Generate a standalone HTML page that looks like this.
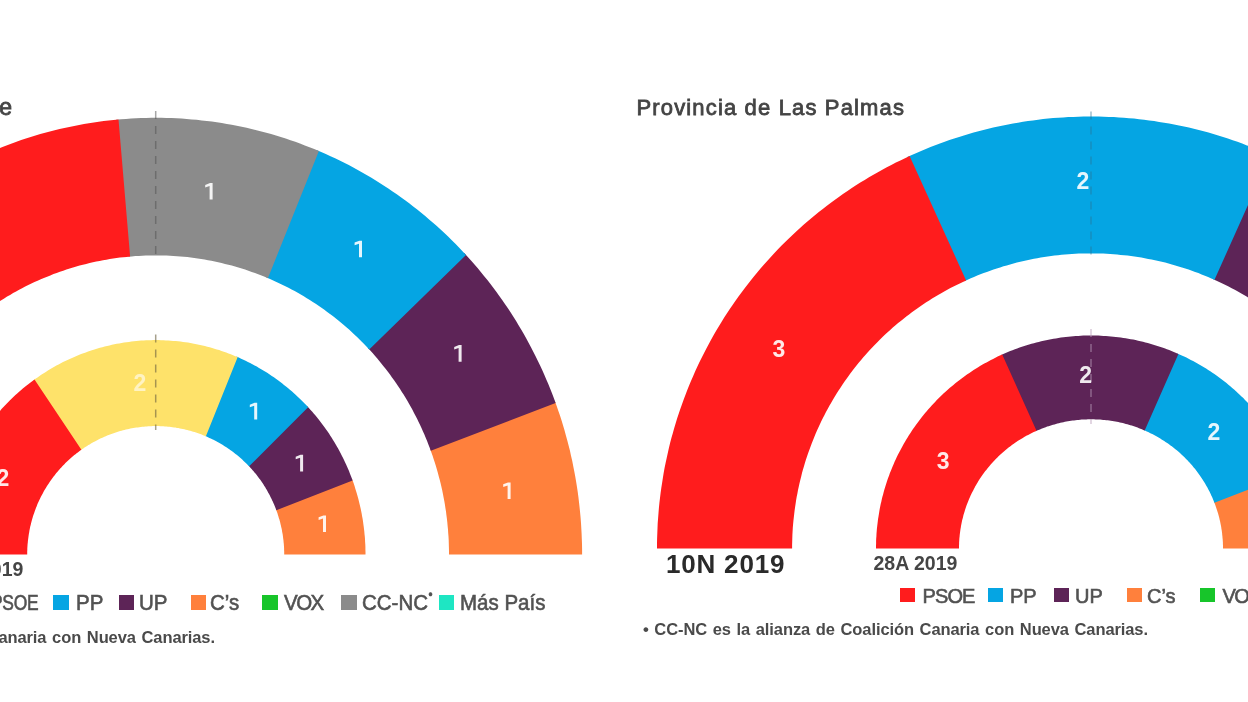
<!DOCTYPE html>
<html><head><meta charset="utf-8"><style>
html,body{margin:0;padding:0;background:#fff;}
body{width:1248px;height:702px;overflow:hidden;position:relative;font-family:"Liberation Sans",sans-serif;}
svg{position:absolute;left:0;top:0;}
#wrap{position:absolute;left:0;top:0;width:1248px;height:702px;overflow:hidden;filter:blur(0.6px);}
.n{font-family:"Liberation Sans",sans-serif;font-weight:bold;font-size:23px;fill:#fff;fill-opacity:0.9;text-anchor:middle;}
.t{position:absolute;white-space:nowrap;line-height:1;}
.title{font-size:22px;color:#444;-webkit-text-stroke:0.8px #444;letter-spacing:1.15px;}
.yr{font-weight:bold;color:#2a2a2a;}
.lg{font-size:20px;color:#525252;-webkit-text-stroke:0.6px #525252;}
.sq{position:absolute;width:15px;height:15px;}
.fn{font-size:16.5px;font-weight:bold;color:#4a4a4a;letter-spacing:-0.1px;word-spacing:1.2px;}
</style></head><body>
<div id="wrap">
<svg width="1248" height="702" viewBox="0 0 1248 702">
<path d="M582.1,554.5 L582.1,549.3 L582.0,544.0 L581.8,538.8 L581.6,533.5 L581.3,528.3 L581.0,523.0 L580.6,517.8 L580.1,512.6 L579.6,507.4 L579.0,502.2 L578.4,497.0 L577.7,491.8 L576.9,486.6 L576.1,481.4 L575.2,476.2 L574.2,471.1 L573.2,465.9 L572.2,460.8 L571.0,455.7 L569.9,450.6 L568.6,445.5 L567.3,440.4 L565.9,435.4 L564.5,430.3 L563.0,425.3 L561.5,420.3 L559.9,415.3 L558.2,410.4 L556.5,405.4 L554.7,400.5 L430.2,449.0 L431.4,452.4 L432.6,455.8 L433.7,459.2 L434.8,462.6 L435.9,466.0 L436.9,469.5 L437.9,472.9 L438.8,476.4 L439.7,479.8 L440.6,483.3 L441.4,486.8 L442.2,490.3 L442.9,493.8 L443.6,497.4 L444.3,500.9 L444.9,504.4 L445.4,508.0 L446.0,511.5 L446.4,515.1 L446.9,518.7 L447.3,522.2 L447.6,525.8 L448.0,529.4 L448.2,533.0 L448.5,536.5 L448.7,540.1 L448.8,543.7 L448.9,547.3 L449.0,550.9 L449.0,554.5Z" fill="#ff803c"/>
<path d="M555.6,403.0 L553.9,398.2 L552.1,393.5 L550.2,388.8 L548.3,384.1 L546.3,379.4 L544.3,374.8 L542.2,370.1 L540.1,365.6 L537.9,361.0 L535.7,356.4 L533.4,351.9 L531.1,347.4 L528.7,343.0 L526.3,338.5 L523.8,334.1 L521.3,329.8 L518.7,325.4 L516.1,321.1 L513.4,316.8 L510.7,312.6 L507.9,308.3 L505.1,304.2 L502.2,300.0 L499.3,295.9 L496.3,291.8 L493.3,287.8 L490.3,283.8 L487.2,279.8 L484.0,275.9 L480.8,272.0 L477.6,268.1 L474.3,264.3 L471.0,260.5 L467.6,256.8 L464.2,253.1 L367.9,348.0 L370.3,350.6 L372.6,353.1 L374.9,355.7 L377.1,358.3 L379.3,361.0 L381.5,363.7 L383.7,366.4 L385.8,369.1 L387.9,371.8 L390.0,374.6 L392.0,377.4 L394.1,380.2 L396.0,383.0 L398.0,385.9 L399.9,388.8 L401.7,391.7 L403.6,394.6 L405.4,397.6 L407.2,400.6 L408.9,403.6 L410.6,406.6 L412.3,409.6 L413.9,412.7 L415.5,415.7 L417.1,418.8 L418.6,422.0 L420.1,425.1 L421.6,428.2 L423.0,431.4 L424.4,434.6 L425.7,437.8 L427.1,441.0 L428.3,444.2 L429.6,447.5 L430.8,450.7Z" fill="#5d2457"/>
<path d="M466.0,255.0 L462.5,251.2 L459.0,247.5 L455.4,243.8 L451.8,240.2 L448.1,236.6 L444.4,233.1 L440.6,229.6 L436.8,226.1 L433.0,222.7 L429.1,219.4 L425.2,216.1 L421.2,212.8 L417.2,209.6 L413.2,206.4 L409.2,203.3 L405.1,200.3 L400.9,197.2 L396.8,194.3 L392.6,191.4 L388.3,188.5 L384.0,185.7 L379.7,182.9 L375.4,180.2 L371.0,177.6 L366.6,175.0 L362.2,172.4 L357.8,170.0 L353.3,167.5 L348.8,165.1 L344.2,162.8 L339.7,160.5 L335.1,158.3 L330.5,156.2 L325.8,154.1 L321.2,152.0 L316.5,150.0 L266.3,277.5 L269.5,278.8 L272.7,280.2 L275.9,281.7 L279.1,283.2 L282.2,284.7 L285.4,286.2 L288.5,287.8 L291.6,289.4 L294.7,291.1 L297.8,292.8 L300.8,294.6 L303.8,296.3 L306.8,298.2 L309.8,300.0 L312.8,301.9 L315.7,303.8 L318.6,305.8 L321.5,307.8 L324.4,309.8 L327.2,311.9 L330.0,314.0 L332.8,316.1 L335.6,318.3 L338.4,320.5 L341.1,322.7 L343.8,325.0 L346.4,327.3 L349.1,329.6 L351.7,332.0 L354.3,334.4 L356.8,336.8 L359.3,339.2 L361.8,341.7 L364.3,344.2 L366.7,346.8 L369.2,349.4Z" fill="#05a5e3"/>
<path d="M318.9,151.0 L314.2,149.1 L309.5,147.2 L304.8,145.4 L300.0,143.6 L295.3,141.8 L290.5,140.2 L285.7,138.6 L280.8,137.0 L276.0,135.5 L271.1,134.1 L266.3,132.7 L261.4,131.4 L256.5,130.2 L251.5,129.0 L246.6,127.8 L241.7,126.8 L236.7,125.8 L231.7,124.8 L226.8,123.9 L221.8,123.1 L216.8,122.3 L211.8,121.6 L206.8,120.9 L201.7,120.4 L196.7,119.8 L191.7,119.4 L186.6,119.0 L181.6,118.6 L176.5,118.3 L171.5,118.1 L166.4,117.9 L161.4,117.8 L156.3,117.8 L151.3,117.8 L146.2,117.9 L141.2,118.1 L136.1,118.3 L131.1,118.5 L126.0,118.9 L121.0,119.3 L115.9,119.7 L128.4,256.7 L131.8,256.4 L135.3,256.1 L138.8,255.9 L142.2,255.7 L145.7,255.6 L149.2,255.5 L152.7,255.4 L156.1,255.4 L159.6,255.4 L163.1,255.5 L166.6,255.6 L170.0,255.8 L173.5,256.0 L177.0,256.2 L180.4,256.5 L183.9,256.8 L187.4,257.1 L190.8,257.6 L194.3,258.0 L197.7,258.5 L201.2,259.0 L204.6,259.6 L208.0,260.2 L211.4,260.8 L214.8,261.5 L218.2,262.3 L221.6,263.1 L225.0,263.9 L228.4,264.7 L231.8,265.6 L235.1,266.6 L238.4,267.5 L241.8,268.6 L245.1,269.6 L248.4,270.7 L251.7,271.9 L255.0,273.1 L258.2,274.3 L261.5,275.5 L264.7,276.8 L267.9,278.2Z" fill="#8b8b8b"/>
<path d="M118.5,119.5 L113.6,119.9 L108.6,120.5 L103.7,121.1 L98.7,121.7 L93.8,122.4 L88.9,123.2 L84.0,124.0 L79.1,124.9 L74.2,125.9 L69.3,126.9 L64.4,127.9 L59.6,129.0 L54.7,130.2 L49.9,131.5 L45.1,132.8 L40.3,134.1 L35.5,135.5 L30.7,137.0 L25.9,138.5 L21.2,140.1 L16.5,141.7 L11.8,143.4 L7.1,145.2 L2.5,147.0 L-2.2,148.8 L-6.8,150.8 L-11.4,152.7 L-16.0,154.8 L-20.5,156.8 L-25.0,159.0 L-29.5,161.2 L-34.0,163.4 L-38.5,165.7 L-42.9,168.0 L-47.3,170.4 L-51.6,172.9 L-56.0,175.4 L-60.3,178.0 L-64.6,180.6 L-68.8,183.2 L-73.0,185.9 L-77.2,188.7 L-81.4,191.5 L-85.5,194.4 L-89.6,197.3 L-93.6,200.3 L-97.7,203.3 L-101.7,206.3 L-105.6,209.4 L-109.5,212.6 L-113.4,215.8 L-117.3,219.0 L-121.1,222.3 L-124.8,225.6 L-128.6,229.0 L-132.3,232.4 L-135.9,235.9 L-139.5,239.4 L-143.1,243.0 L-146.6,246.6 L-150.1,250.2 L-153.6,253.9 L-157.0,257.6 L-160.4,261.4 L-163.7,265.2 L-167.0,269.0 L-170.2,272.9 L-173.4,276.8 L-176.5,280.7 L-179.6,284.7 L-182.7,288.8 L-185.7,292.8 L-188.6,296.9 L-191.6,301.1 L-194.4,305.2 L-197.2,309.5 L-200.0,313.7 L-202.7,318.0 L-205.4,322.3 L-208.0,326.6 L-210.6,331.0 L-213.1,335.4 L-215.6,339.8 L-218.0,344.3 L-220.4,348.7 L-222.7,353.3 L-225.0,357.8 L-227.2,362.4 L-229.4,367.0 L-231.5,371.6 L-233.5,376.2 L-235.6,380.9 L-237.5,385.6 L-239.4,390.3 L-241.3,395.0 L-243.0,399.8 L-244.8,404.6 L-246.5,409.4 L-248.1,414.2 L-249.7,419.0 L-251.2,423.9 L-252.6,428.8 L-254.1,433.7 L-255.4,438.6 L-256.7,443.5 L-257.9,448.4 L-259.1,453.4 L-260.2,458.4 L-261.3,463.4 L-262.3,468.3 L-263.3,473.4 L-264.2,478.4 L-265.0,483.4 L-265.8,488.4 L-266.5,493.5 L-267.2,498.5 L-267.8,503.6 L-268.3,508.7 L-268.8,513.7 L-269.3,518.8 L-269.7,523.9 L-270.0,529.0 L-270.2,534.1 L-270.4,539.2 L-270.6,544.3 L-270.7,549.4 L-270.7,554.5 L-137.6,554.5 L-137.6,551.0 L-137.5,547.5 L-137.4,544.0 L-137.3,540.5 L-137.1,537.0 L-136.9,533.6 L-136.6,530.1 L-136.3,526.6 L-136.0,523.1 L-135.6,519.6 L-135.2,516.2 L-134.7,512.7 L-134.2,509.3 L-133.7,505.8 L-133.1,502.4 L-132.5,498.9 L-131.8,495.5 L-131.1,492.1 L-130.4,488.7 L-129.6,485.3 L-128.8,481.9 L-128.0,478.5 L-127.1,475.1 L-126.1,471.7 L-125.2,468.4 L-124.2,465.0 L-123.1,461.7 L-122.1,458.4 L-120.9,455.1 L-119.8,451.8 L-118.6,448.5 L-117.3,445.3 L-116.1,442.0 L-114.8,438.8 L-113.4,435.6 L-112.0,432.4 L-110.6,429.2 L-109.2,426.0 L-107.7,422.9 L-106.2,419.8 L-104.6,416.7 L-103.0,413.6 L-101.4,410.5 L-99.7,407.4 L-98.0,404.4 L-96.3,401.4 L-94.5,398.4 L-92.7,395.4 L-90.9,392.5 L-89.0,389.6 L-87.1,386.7 L-85.1,383.8 L-83.2,380.9 L-81.2,378.1 L-79.1,375.3 L-77.1,372.5 L-75.0,369.7 L-72.8,367.0 L-70.7,364.3 L-68.5,361.6 L-66.2,359.0 L-64.0,356.3 L-61.7,353.7 L-59.4,351.1 L-57.0,348.6 L-54.7,346.1 L-52.3,343.6 L-49.8,341.1 L-47.4,338.7 L-44.9,336.3 L-42.4,333.9 L-39.8,331.6 L-37.3,329.3 L-34.7,327.0 L-32.1,324.7 L-29.4,322.5 L-26.7,320.3 L-24.0,318.1 L-21.3,316.0 L-18.6,313.9 L-15.8,311.9 L-13.0,309.8 L-10.2,307.9 L-7.4,305.9 L-4.5,304.0 L-1.6,302.1 L1.3,300.2 L4.2,298.4 L7.1,296.6 L10.1,294.9 L13.1,293.1 L16.1,291.5 L19.1,289.8 L22.1,288.2 L25.2,286.6 L28.3,285.1 L31.4,283.6 L34.5,282.1 L37.6,280.7 L40.8,279.3 L43.9,278.0 L47.1,276.7 L50.3,275.4 L53.5,274.1 L56.7,272.9 L59.9,271.8 L63.2,270.7 L66.4,269.6 L69.7,268.5 L73.0,267.5 L76.3,266.6 L79.6,265.6 L82.9,264.8 L86.2,263.9 L89.6,263.1 L92.9,262.3 L96.3,261.6 L99.6,260.9 L103.0,260.3 L106.4,259.7 L109.7,259.1 L113.1,258.6 L116.5,258.1 L119.9,257.6 L123.3,257.2 L126.7,256.9 L130.1,256.5Z" fill="#ff1c1d"/>
<path d="M365.5,554.5 L365.5,551.9 L365.4,549.4 L365.4,546.8 L365.3,544.3 L365.1,541.7 L365.0,539.1 L364.8,536.6 L364.5,534.0 L364.3,531.5 L364.0,528.9 L363.7,526.4 L363.3,523.8 L363.0,521.3 L362.6,518.8 L362.1,516.3 L361.7,513.7 L361.2,511.2 L360.7,508.7 L360.1,506.2 L359.5,503.7 L358.9,501.2 L358.3,498.8 L357.6,496.3 L356.9,493.8 L356.2,491.4 L355.4,488.9 L354.7,486.5 L353.9,484.1 L353.0,481.6 L352.1,479.2 L276.0,509.4 L276.6,510.9 L277.1,512.3 L277.6,513.8 L278.0,515.2 L278.5,516.7 L278.9,518.2 L279.4,519.6 L279.8,521.1 L280.2,522.6 L280.5,524.1 L280.9,525.6 L281.2,527.1 L281.6,528.6 L281.9,530.1 L282.1,531.6 L282.4,533.1 L282.7,534.6 L282.9,536.1 L283.1,537.7 L283.3,539.2 L283.5,540.7 L283.6,542.2 L283.8,543.8 L283.9,545.3 L284.0,546.8 L284.1,548.4 L284.1,549.9 L284.2,551.4 L284.2,553.0 L284.2,554.5Z" fill="#ff803c"/>
<path d="M352.6,480.5 L351.7,478.1 L350.8,475.8 L349.9,473.4 L349.0,471.1 L348.0,468.8 L347.0,466.5 L346.0,464.2 L344.9,461.9 L343.9,459.7 L342.8,457.4 L341.6,455.2 L340.5,452.9 L339.3,450.7 L338.1,448.5 L336.9,446.4 L335.6,444.2 L334.3,442.0 L333.0,439.9 L331.7,437.8 L330.3,435.7 L329.0,433.6 L327.6,431.5 L326.1,429.5 L324.7,427.4 L323.2,425.4 L321.7,423.4 L320.2,421.4 L318.7,419.5 L317.1,417.5 L315.5,415.6 L313.9,413.7 L312.3,411.8 L310.6,409.9 L308.9,408.1 L307.3,406.2 L248.5,465.7 L249.6,466.8 L250.6,467.9 L251.6,469.0 L252.6,470.2 L253.6,471.3 L254.5,472.5 L255.5,473.6 L256.5,474.8 L257.4,476.0 L258.3,477.2 L259.2,478.4 L260.1,479.6 L261.0,480.8 L261.8,482.1 L262.7,483.3 L263.5,484.6 L264.3,485.9 L265.1,487.1 L265.9,488.4 L266.7,489.7 L267.4,491.0 L268.1,492.4 L268.9,493.7 L269.6,495.0 L270.3,496.4 L270.9,497.7 L271.6,499.1 L272.2,500.4 L272.9,501.8 L273.5,503.2 L274.1,504.6 L274.7,505.9 L275.2,507.3 L275.8,508.8 L276.3,510.2Z" fill="#5d2457"/>
<path d="M308.1,407.2 L306.4,405.3 L304.6,403.5 L302.9,401.7 L301.1,399.9 L299.3,398.2 L297.4,396.4 L295.6,394.7 L293.7,393.0 L291.8,391.3 L289.9,389.7 L287.9,388.1 L286.0,386.4 L284.0,384.9 L282.0,383.3 L280.0,381.8 L278.0,380.3 L275.9,378.8 L273.9,377.3 L271.8,375.9 L269.7,374.5 L267.6,373.1 L265.5,371.8 L263.3,370.5 L261.2,369.2 L259.0,367.9 L256.8,366.6 L254.6,365.4 L252.4,364.2 L250.1,363.1 L247.9,361.9 L245.6,360.8 L243.4,359.7 L241.1,358.7 L238.8,357.6 L236.5,356.6 L205.2,436.0 L206.6,436.6 L208.0,437.2 L209.4,437.9 L210.8,438.5 L212.2,439.2 L213.5,439.8 L214.9,440.5 L216.3,441.3 L217.6,442.0 L219.0,442.7 L220.3,443.5 L221.6,444.3 L222.9,445.1 L224.2,445.9 L225.5,446.7 L226.8,447.6 L228.1,448.4 L229.3,449.3 L230.6,450.2 L231.8,451.1 L233.1,452.0 L234.3,452.9 L235.5,453.9 L236.7,454.8 L237.9,455.8 L239.1,456.8 L240.2,457.8 L241.4,458.8 L242.5,459.8 L243.6,460.9 L244.7,461.9 L245.8,463.0 L246.9,464.1 L248.0,465.2 L249.1,466.3Z" fill="#05a5e3"/>
<path d="M237.7,357.1 L235.4,356.2 L233.1,355.2 L230.8,354.3 L228.5,353.4 L226.2,352.6 L223.8,351.7 L221.5,350.9 L219.2,350.1 L216.8,349.4 L214.4,348.7 L212.1,348.0 L209.7,347.3 L207.3,346.7 L204.9,346.1 L202.5,345.5 L200.1,345.0 L197.7,344.4 L195.2,343.9 L192.8,343.5 L190.4,343.1 L188.0,342.6 L185.5,342.3 L183.1,341.9 L180.6,341.6 L178.2,341.3 L175.7,341.1 L173.2,340.9 L170.8,340.7 L168.3,340.5 L165.9,340.4 L163.4,340.2 L160.9,340.2 L158.5,340.1 L156.0,340.1 L153.5,340.1 L151.1,340.2 L148.6,340.2 L146.1,340.3 L143.7,340.5 L141.2,340.6 L138.7,340.8 L136.3,341.0 L133.8,341.3 L131.4,341.5 L128.9,341.9 L126.5,342.2 L124.0,342.6 L121.6,343.0 L119.2,343.4 L116.7,343.8 L114.3,344.3 L111.9,344.8 L109.5,345.4 L107.1,345.9 L104.7,346.5 L102.3,347.2 L99.9,347.8 L97.5,348.5 L95.2,349.2 L92.8,350.0 L90.4,350.7 L88.1,351.5 L85.8,352.4 L83.4,353.2 L81.1,354.1 L78.8,355.0 L76.5,355.9 L74.3,356.9 L72.0,357.9 L69.7,358.9 L67.5,360.0 L65.3,361.0 L63.0,362.1 L60.8,363.3 L58.6,364.4 L56.4,365.6 L54.3,366.8 L52.1,368.0 L50.0,369.3 L47.9,370.6 L45.8,371.9 L43.7,373.2 L41.6,374.6 L39.5,376.0 L37.5,377.4 L35.4,378.8 L33.4,380.3 L80.8,450.2 L82.0,449.3 L83.3,448.4 L84.5,447.6 L85.8,446.8 L87.1,445.9 L88.4,445.1 L89.7,444.4 L91.0,443.6 L92.3,442.8 L93.6,442.1 L94.9,441.4 L96.2,440.7 L97.6,440.0 L98.9,439.3 L100.3,438.6 L101.7,438.0 L103.0,437.4 L104.4,436.8 L105.8,436.2 L107.2,435.6 L108.6,435.0 L110.0,434.5 L111.4,434.0 L112.9,433.4 L114.3,432.9 L115.7,432.5 L117.2,432.0 L118.6,431.6 L120.1,431.1 L121.5,430.7 L123.0,430.3 L124.4,430.0 L125.9,429.6 L127.4,429.3 L128.9,428.9 L130.3,428.6 L131.8,428.3 L133.3,428.1 L134.8,427.8 L136.3,427.6 L137.8,427.4 L139.3,427.2 L140.8,427.0 L142.3,426.8 L143.8,426.7 L145.3,426.5 L146.8,426.4 L148.3,426.3 L149.8,426.2 L151.3,426.2 L152.9,426.1 L154.4,426.1 L155.9,426.1 L157.4,426.1 L158.9,426.1 L160.4,426.2 L161.9,426.3 L163.4,426.3 L164.9,426.4 L166.4,426.5 L168.0,426.7 L169.5,426.8 L171.0,427.0 L172.5,427.2 L174.0,427.4 L175.5,427.6 L176.9,427.9 L178.4,428.1 L179.9,428.4 L181.4,428.7 L182.9,429.0 L184.4,429.3 L185.8,429.7 L187.3,430.0 L188.8,430.4 L190.2,430.8 L191.7,431.2 L193.1,431.7 L194.6,432.1 L196.0,432.6 L197.4,433.1 L198.9,433.6 L200.3,434.1 L201.7,434.6 L203.1,435.2 L204.5,435.7 L205.9,436.3Z" fill="#fee26a"/>
<path d="M34.5,379.5 L32.5,381.0 L30.5,382.5 L28.6,384.0 L26.6,385.5 L24.7,387.0 L22.8,388.6 L20.9,390.2 L19.1,391.8 L17.2,393.4 L15.4,395.1 L13.6,396.8 L11.8,398.5 L10.0,400.2 L8.3,401.9 L6.6,403.7 L4.9,405.5 L3.2,407.3 L1.5,409.1 L-0.1,411.0 L-1.8,412.8 L-3.4,414.7 L-5.0,416.6 L-6.5,418.5 L-8.1,420.5 L-9.6,422.4 L-11.1,424.4 L-12.5,426.4 L-14.0,428.4 L-15.4,430.4 L-16.8,432.5 L-18.2,434.5 L-19.5,436.6 L-20.9,438.7 L-22.2,440.8 L-23.5,442.9 L-24.7,445.1 L-26.0,447.2 L-27.2,449.4 L-28.4,451.6 L-29.5,453.8 L-30.6,456.0 L-31.8,458.2 L-32.8,460.5 L-33.9,462.7 L-34.9,465.0 L-35.9,467.2 L-36.9,469.5 L-37.9,471.8 L-38.8,474.1 L-39.7,476.5 L-40.6,478.8 L-41.4,481.1 L-42.3,483.5 L-43.1,485.8 L-43.8,488.2 L-44.6,490.6 L-45.3,493.0 L-46.0,495.4 L-46.6,497.8 L-47.3,500.2 L-47.9,502.6 L-48.4,505.0 L-49.0,507.5 L-49.5,509.9 L-50.0,512.3 L-50.5,514.8 L-50.9,517.2 L-51.3,519.7 L-51.7,522.2 L-52.1,524.6 L-52.4,527.1 L-52.7,529.6 L-52.9,532.1 L-53.2,534.6 L-53.4,537.0 L-53.6,539.5 L-53.7,542.0 L-53.9,544.5 L-54.0,547.0 L-54.0,549.5 L-54.1,552.0 L-54.1,554.5 L27.2,554.5 L27.2,553.0 L27.2,551.5 L27.3,550.0 L27.3,548.5 L27.4,547.0 L27.5,545.5 L27.6,544.0 L27.8,542.6 L27.9,541.1 L28.1,539.6 L28.3,538.1 L28.5,536.6 L28.7,535.1 L28.9,533.7 L29.2,532.2 L29.4,530.7 L29.7,529.3 L30.0,527.8 L30.3,526.3 L30.7,524.9 L31.0,523.4 L31.4,522.0 L31.8,520.5 L32.2,519.1 L32.6,517.7 L33.0,516.2 L33.5,514.8 L34.0,513.4 L34.5,512.0 L35.0,510.6 L35.5,509.2 L36.0,507.8 L36.6,506.4 L37.1,505.0 L37.7,503.6 L38.3,502.2 L38.9,500.9 L39.6,499.5 L40.2,498.2 L40.9,496.8 L41.6,495.5 L42.3,494.2 L43.0,492.9 L43.7,491.6 L44.4,490.3 L45.2,489.0 L46.0,487.7 L46.7,486.4 L47.5,485.2 L48.4,483.9 L49.2,482.7 L50.0,481.4 L50.9,480.2 L51.8,479.0 L52.7,477.8 L53.6,476.6 L54.5,475.4 L55.4,474.2 L56.3,473.1 L57.3,471.9 L58.3,470.8 L59.2,469.7 L60.2,468.5 L61.3,467.4 L62.3,466.3 L63.3,465.3 L64.4,464.2 L65.4,463.1 L66.5,462.1 L67.6,461.1 L68.7,460.0 L69.8,459.0 L70.9,458.0 L72.0,457.1 L73.2,456.1 L74.3,455.1 L75.5,454.2 L76.6,453.3 L77.8,452.4 L79.0,451.5 L80.2,450.6 L81.4,449.7Z" fill="#ff1c1d"/>
<path d="M1525.0,548.6 L1525.0,543.5 L1524.9,538.5 L1524.7,533.4 L1524.5,528.3 L1524.3,523.2 L1523.9,518.2 L1523.5,513.1 L1523.1,508.1 L1522.6,503.0 L1522.0,498.0 L1521.4,492.9 L1520.7,487.9 L1520.0,482.9 L1519.1,477.9 L1518.3,472.9 L1517.4,467.9 L1516.4,462.9 L1515.3,457.9 L1514.2,453.0 L1513.1,448.0 L1511.9,443.1 L1510.6,438.2 L1509.3,433.3 L1507.9,428.4 L1506.4,423.5 L1504.9,418.7 L1503.4,413.9 L1501.7,409.0 L1500.1,404.2 L1498.3,399.5 L1496.5,394.7 L1494.7,390.0 L1492.8,385.3 L1490.9,380.6 L1488.8,375.9 L1486.8,371.3 L1484.7,366.7 L1482.5,362.1 L1480.3,357.5 L1478.0,353.0 L1475.6,348.5 L1473.3,344.0 L1470.8,339.5 L1468.3,335.1 L1465.8,330.7 L1463.2,326.3 L1460.5,322.0 L1457.8,317.7 L1455.1,313.4 L1452.3,309.2 L1449.4,305.0 L1446.5,300.8 L1443.6,296.7 L1440.6,292.5 L1437.5,288.5 L1434.5,284.4 L1431.3,280.4 L1428.1,276.5 L1424.9,272.6 L1421.6,268.7 L1418.3,264.8 L1414.9,261.0 L1411.5,257.3 L1408.0,253.5 L1404.5,249.8 L1401.0,246.2 L1397.4,242.6 L1393.8,239.0 L1390.1,235.5 L1386.4,232.0 L1382.6,228.6 L1378.8,225.2 L1375.0,221.9 L1371.1,218.6 L1367.2,215.3 L1363.3,212.1 L1359.3,208.9 L1355.3,205.8 L1351.2,202.8 L1347.1,199.7 L1343.0,196.8 L1338.8,193.9 L1334.6,191.0 L1330.4,188.2 L1326.1,185.4 L1321.8,182.7 L1317.5,180.0 L1313.1,177.4 L1308.7,174.8 L1304.3,172.3 L1299.8,169.8 L1295.3,167.4 L1290.8,165.0 L1286.3,162.7 L1281.7,160.5 L1277.1,158.3 L1272.5,156.1 L1267.9,154.0 L1212.8,279.0 L1216.0,280.5 L1219.2,281.9 L1222.4,283.4 L1225.5,285.0 L1228.6,286.6 L1231.7,288.2 L1234.8,289.8 L1237.9,291.5 L1240.9,293.2 L1244.0,295.0 L1247.0,296.8 L1249.9,298.6 L1252.9,300.5 L1255.8,302.4 L1258.8,304.3 L1261.7,306.2 L1264.5,308.2 L1267.4,310.3 L1270.2,312.3 L1273.0,314.4 L1275.8,316.6 L1278.5,318.7 L1281.2,320.9 L1283.9,323.1 L1286.6,325.4 L1289.2,327.7 L1291.9,330.0 L1294.4,332.3 L1297.0,334.7 L1299.5,337.1 L1302.0,339.5 L1304.5,342.0 L1306.9,344.5 L1309.4,347.0 L1311.7,349.6 L1314.1,352.1 L1316.4,354.7 L1318.7,357.4 L1321.0,360.0 L1323.2,362.7 L1325.4,365.4 L1327.5,368.1 L1329.7,370.9 L1331.8,373.7 L1333.8,376.5 L1335.9,379.3 L1337.9,382.2 L1339.8,385.0 L1341.7,387.9 L1343.6,390.9 L1345.5,393.8 L1347.3,396.8 L1349.1,399.7 L1350.9,402.7 L1352.6,405.8 L1354.3,408.8 L1355.9,411.9 L1357.5,415.0 L1359.1,418.1 L1360.6,421.2 L1362.1,424.3 L1363.6,427.5 L1365.0,430.6 L1366.4,433.8 L1367.7,437.0 L1369.0,440.2 L1370.3,443.5 L1371.5,446.7 L1372.7,450.0 L1373.9,453.3 L1375.0,456.5 L1376.1,459.8 L1377.1,463.2 L1378.1,466.5 L1379.1,469.8 L1380.0,473.2 L1380.9,476.5 L1381.7,479.9 L1382.5,483.3 L1383.2,486.7 L1384.0,490.0 L1384.6,493.5 L1385.3,496.9 L1385.9,500.3 L1386.4,503.7 L1386.9,507.1 L1387.4,510.6 L1387.8,514.0 L1388.2,517.5 L1388.6,520.9 L1388.9,524.4 L1389.2,527.8 L1389.4,531.3 L1389.6,534.7 L1389.7,538.2 L1389.8,541.7 L1389.9,545.1 L1389.9,548.6Z" fill="#5d2457"/>
<path d="M1270.3,155.1 L1265.7,153.0 L1261.0,151.0 L1256.4,149.1 L1251.7,147.2 L1246.9,145.4 L1242.2,143.6 L1237.5,141.8 L1232.7,140.2 L1227.9,138.6 L1223.1,137.0 L1218.2,135.5 L1213.4,134.0 L1208.5,132.6 L1203.7,131.3 L1198.8,130.0 L1193.8,128.8 L1188.9,127.6 L1184.0,126.5 L1179.0,125.5 L1174.1,124.5 L1169.1,123.6 L1164.1,122.7 L1159.1,121.9 L1154.1,121.1 L1149.1,120.4 L1144.1,119.7 L1139.1,119.2 L1134.0,118.6 L1129.0,118.2 L1123.9,117.7 L1118.9,117.4 L1113.8,117.1 L1108.8,116.9 L1103.7,116.7 L1098.7,116.6 L1093.6,116.5 L1088.5,116.5 L1083.5,116.6 L1078.4,116.7 L1073.4,116.9 L1068.3,117.1 L1063.2,117.4 L1058.2,117.7 L1053.2,118.1 L1048.1,118.6 L1043.1,119.1 L1038.1,119.7 L1033.0,120.4 L1028.0,121.1 L1023.0,121.8 L1018.0,122.7 L1013.0,123.5 L1008.1,124.5 L1003.1,125.5 L998.1,126.5 L993.2,127.6 L988.3,128.8 L983.4,130.0 L978.5,131.3 L973.6,132.6 L968.7,134.0 L963.9,135.4 L959.1,137.0 L954.2,138.5 L949.4,140.1 L944.7,141.8 L939.9,143.5 L935.2,145.3 L930.5,147.1 L925.8,149.0 L921.1,151.0 L916.5,153.0 L911.8,155.0 L907.2,157.1 L964.4,281.2 L967.6,279.7 L970.8,278.3 L974.0,277.0 L977.2,275.6 L980.4,274.3 L983.7,273.1 L986.9,271.9 L990.2,270.7 L993.5,269.5 L996.8,268.4 L1000.1,267.4 L1003.5,266.3 L1006.8,265.4 L1010.1,264.4 L1013.5,263.5 L1016.9,262.6 L1020.3,261.8 L1023.7,261.0 L1027.1,260.2 L1030.5,259.5 L1033.9,258.8 L1037.3,258.2 L1040.7,257.6 L1044.2,257.0 L1047.6,256.5 L1051.1,256.0 L1054.5,255.6 L1058.0,255.2 L1061.5,254.8 L1064.9,254.5 L1068.4,254.2 L1071.9,254.0 L1075.4,253.8 L1078.8,253.6 L1082.3,253.5 L1085.8,253.4 L1089.3,253.4 L1092.8,253.4 L1096.3,253.4 L1099.8,253.5 L1103.2,253.6 L1106.7,253.8 L1110.2,254.0 L1113.7,254.3 L1117.2,254.5 L1120.6,254.9 L1124.1,255.2 L1127.6,255.6 L1131.0,256.1 L1134.5,256.5 L1137.9,257.1 L1141.4,257.6 L1144.8,258.2 L1148.2,258.9 L1151.6,259.5 L1155.0,260.3 L1158.4,261.0 L1161.8,261.8 L1165.2,262.6 L1168.6,263.5 L1171.9,264.4 L1175.3,265.4 L1178.6,266.4 L1182.0,267.4 L1185.3,268.5 L1188.6,269.6 L1191.9,270.7 L1195.1,271.9 L1198.4,273.1 L1201.6,274.4 L1204.9,275.7 L1208.1,277.0 L1211.3,278.4 L1214.5,279.8Z" fill="#05a5e3"/>
<path d="M909.6,156.0 L905.0,158.2 L900.4,160.4 L895.9,162.6 L891.3,164.9 L886.8,167.3 L882.3,169.7 L877.9,172.2 L873.4,174.7 L869.0,177.3 L864.7,179.9 L860.3,182.6 L856.0,185.3 L851.8,188.1 L847.5,190.9 L843.3,193.8 L839.2,196.7 L835.0,199.7 L830.9,202.7 L826.9,205.7 L822.8,208.9 L818.8,212.0 L814.9,215.2 L811.0,218.5 L807.1,221.8 L803.3,225.1 L799.5,228.5 L795.7,231.9 L792.0,235.4 L788.3,238.9 L784.7,242.5 L781.1,246.1 L777.5,249.8 L774.0,253.4 L770.6,257.2 L767.2,260.9 L763.8,264.7 L760.5,268.6 L757.2,272.5 L753.9,276.4 L750.7,280.4 L747.6,284.4 L744.5,288.4 L741.5,292.5 L738.5,296.6 L735.5,300.7 L732.6,304.9 L729.8,309.1 L727.0,313.3 L724.2,317.6 L721.5,321.9 L718.9,326.3 L716.3,330.6 L713.7,335.0 L711.2,339.5 L708.8,343.9 L706.4,348.4 L704.1,352.9 L701.8,357.5 L699.5,362.0 L697.4,366.6 L695.2,371.2 L693.2,375.9 L691.2,380.5 L689.2,385.2 L687.3,389.9 L685.5,394.7 L683.7,399.4 L682.0,404.2 L680.3,409.0 L678.7,413.8 L677.1,418.6 L675.6,423.5 L674.1,428.4 L672.8,433.2 L671.4,438.1 L670.1,443.1 L668.9,448.0 L667.8,452.9 L666.7,457.9 L665.6,462.9 L664.6,467.8 L663.7,472.8 L662.9,477.8 L662.1,482.9 L661.3,487.9 L660.6,492.9 L660.0,497.9 L659.4,503.0 L658.9,508.0 L658.5,513.1 L658.1,518.2 L657.7,523.2 L657.5,528.3 L657.3,533.4 L657.1,538.4 L657.0,543.5 L657.0,548.6 L792.1,548.6 L792.1,545.1 L792.2,541.7 L792.3,538.2 L792.4,534.7 L792.6,531.3 L792.8,527.8 L793.1,524.3 L793.4,520.9 L793.8,517.4 L794.2,514.0 L794.6,510.6 L795.1,507.1 L795.6,503.7 L796.1,500.3 L796.7,496.8 L797.4,493.4 L798.0,490.0 L798.8,486.6 L799.5,483.2 L800.3,479.9 L801.2,476.5 L802.0,473.1 L802.9,469.8 L803.9,466.5 L804.9,463.1 L805.9,459.8 L807.0,456.5 L808.1,453.2 L809.3,450.0 L810.5,446.7 L811.7,443.4 L813.0,440.2 L814.3,437.0 L815.6,433.8 L817.0,430.6 L818.4,427.4 L819.9,424.3 L821.4,421.1 L822.9,418.0 L824.5,414.9 L826.1,411.8 L827.8,408.8 L829.4,405.7 L831.2,402.7 L832.9,399.7 L834.7,396.7 L836.5,393.7 L838.4,390.8 L840.3,387.9 L842.2,385.0 L844.2,382.1 L846.2,379.3 L848.2,376.4 L850.3,373.6 L852.4,370.8 L854.5,368.1 L856.7,365.3 L858.9,362.6 L861.1,360.0 L863.3,357.3 L865.6,354.7 L868.0,352.1 L870.3,349.5 L872.7,347.0 L875.1,344.4 L877.6,341.9 L880.0,339.5 L882.5,337.0 L885.1,334.6 L887.6,332.3 L890.2,329.9 L892.8,327.6 L895.5,325.3 L898.1,323.1 L900.8,320.9 L903.6,318.7 L906.3,316.5 L909.1,314.4 L911.9,312.3 L914.7,310.2 L917.6,308.2 L920.4,306.2 L923.3,304.2 L926.2,302.3 L929.2,300.4 L932.1,298.5 L935.1,296.7 L938.1,294.9 L941.2,293.2 L944.2,291.4 L947.3,289.8 L950.4,288.1 L953.5,286.5 L956.6,284.9 L959.8,283.4 L962.9,281.9 L966.1,280.4Z" fill="#ff1c1d"/>
<path d="M1306.0,548.6 L1306.0,546.1 L1305.9,543.5 L1305.9,541.0 L1305.8,538.5 L1305.6,535.9 L1305.5,533.4 L1305.3,530.9 L1305.0,528.3 L1304.8,525.8 L1304.5,523.3 L1304.2,520.8 L1303.8,518.3 L1303.4,515.7 L1303.0,513.2 L1302.6,510.7 L1302.1,508.2 L1301.6,505.8 L1301.1,503.3 L1300.5,500.8 L1299.9,498.3 L1299.3,495.9 L1298.7,493.4 L1298.0,491.0 L1297.3,488.5 L1296.5,486.1 L1295.8,483.7 L1295.0,481.3 L1294.2,478.9 L1293.3,476.5 L1292.4,474.1 L1291.5,471.7 L1214.1,501.9 L1214.7,503.4 L1215.2,504.8 L1215.7,506.3 L1216.2,507.7 L1216.7,509.2 L1217.2,510.7 L1217.6,512.1 L1218.1,513.6 L1218.5,515.1 L1218.9,516.6 L1219.3,518.1 L1219.6,519.6 L1220.0,521.1 L1220.3,522.6 L1220.6,524.1 L1220.9,525.6 L1221.2,527.1 L1221.4,528.7 L1221.7,530.2 L1221.9,531.7 L1222.1,533.2 L1222.2,534.8 L1222.4,536.3 L1222.5,537.8 L1222.7,539.4 L1222.8,540.9 L1222.9,542.4 L1222.9,544.0 L1223.0,545.5 L1223.0,547.1 L1223.0,548.6Z" fill="#ff803c"/>
<path d="M1292.0,472.9 L1291.1,470.6 L1290.1,468.3 L1289.2,466.0 L1288.2,463.7 L1287.2,461.4 L1286.1,459.2 L1285.1,456.9 L1284.0,454.7 L1282.9,452.4 L1281.7,450.2 L1280.5,448.0 L1279.3,445.8 L1278.1,443.6 L1276.9,441.5 L1275.6,439.3 L1274.3,437.2 L1273.0,435.1 L1271.6,433.0 L1270.2,430.9 L1268.8,428.8 L1267.4,426.8 L1266.0,424.7 L1264.5,422.7 L1263.0,420.7 L1261.5,418.7 L1259.9,416.8 L1258.4,414.8 L1256.8,412.9 L1255.2,411.0 L1253.5,409.1 L1251.9,407.2 L1250.2,405.4 L1248.5,403.5 L1246.8,401.7 L1245.0,399.9 L1243.3,398.1 L1241.5,396.4 L1239.7,394.7 L1237.8,392.9 L1236.0,391.2 L1234.1,389.6 L1232.2,387.9 L1230.3,386.3 L1228.4,384.7 L1226.5,383.1 L1224.5,381.6 L1222.5,380.0 L1220.5,378.5 L1218.5,377.0 L1216.5,375.6 L1214.4,374.1 L1212.4,372.7 L1210.3,371.3 L1208.2,369.9 L1206.1,368.6 L1203.9,367.3 L1201.8,366.0 L1199.6,364.7 L1197.5,363.5 L1195.3,362.2 L1193.1,361.0 L1190.8,359.9 L1188.6,358.7 L1186.4,357.6 L1184.1,356.5 L1181.8,355.4 L1179.5,354.4 L1177.2,353.4 L1144.0,430.2 L1145.4,430.8 L1146.8,431.4 L1148.2,432.1 L1149.5,432.7 L1150.9,433.4 L1152.3,434.1 L1153.7,434.8 L1155.0,435.5 L1156.4,436.3 L1157.7,437.0 L1159.0,437.8 L1160.3,438.6 L1161.6,439.4 L1162.9,440.2 L1164.2,441.0 L1165.5,441.9 L1166.8,442.7 L1168.0,443.6 L1169.3,444.5 L1170.5,445.4 L1171.8,446.3 L1173.0,447.2 L1174.2,448.2 L1175.4,449.2 L1176.5,450.1 L1177.7,451.1 L1178.9,452.1 L1180.0,453.1 L1181.2,454.2 L1182.3,455.2 L1183.4,456.2 L1184.5,457.3 L1185.6,458.4 L1186.6,459.5 L1187.7,460.6 L1188.7,461.7 L1189.8,462.8 L1190.8,463.9 L1191.8,465.1 L1192.8,466.3 L1193.7,467.4 L1194.7,468.6 L1195.7,469.8 L1196.6,471.0 L1197.5,472.2 L1198.4,473.4 L1199.3,474.7 L1200.2,475.9 L1201.0,477.2 L1201.9,478.4 L1202.7,479.7 L1203.5,481.0 L1204.3,482.3 L1205.1,483.6 L1205.9,484.9 L1206.6,486.2 L1207.4,487.6 L1208.1,488.9 L1208.8,490.2 L1209.5,491.6 L1210.2,493.0 L1210.8,494.3 L1211.4,495.7 L1212.1,497.1 L1212.7,498.5 L1213.3,499.9 L1213.8,501.3 L1214.4,502.7Z" fill="#05a5e3"/>
<path d="M1178.4,353.9 L1176.2,352.9 L1173.8,352.0 L1171.5,351.0 L1169.2,350.1 L1166.9,349.2 L1164.5,348.3 L1162.2,347.5 L1159.8,346.7 L1157.4,345.9 L1155.0,345.2 L1152.6,344.4 L1150.2,343.7 L1147.8,343.1 L1145.4,342.4 L1143.0,341.8 L1140.5,341.2 L1138.1,340.7 L1135.6,340.1 L1133.2,339.6 L1130.7,339.2 L1128.2,338.7 L1125.8,338.3 L1123.3,337.9 L1120.8,337.6 L1118.3,337.2 L1115.8,336.9 L1113.4,336.7 L1110.9,336.4 L1108.4,336.2 L1105.9,336.0 L1103.4,335.9 L1100.9,335.7 L1098.4,335.6 L1095.9,335.6 L1093.4,335.5 L1090.8,335.5 L1088.3,335.5 L1085.8,335.6 L1083.3,335.6 L1080.8,335.7 L1078.3,335.9 L1075.8,336.0 L1073.3,336.2 L1070.8,336.4 L1068.3,336.7 L1065.8,337.0 L1063.4,337.3 L1060.9,337.6 L1058.4,338.0 L1055.9,338.4 L1053.5,338.8 L1051.0,339.2 L1048.5,339.7 L1046.1,340.2 L1043.6,340.7 L1041.2,341.3 L1038.7,341.9 L1036.3,342.5 L1033.9,343.2 L1031.5,343.8 L1029.1,344.5 L1026.7,345.3 L1024.3,346.0 L1021.9,346.8 L1019.6,347.6 L1017.2,348.4 L1014.9,349.3 L1012.5,350.2 L1010.2,351.1 L1007.9,352.1 L1005.6,353.0 L1003.3,354.0 L1001.0,355.1 L1035.7,431.2 L1037.1,430.6 L1038.5,429.9 L1040.0,429.4 L1041.4,428.8 L1042.8,428.2 L1044.2,427.7 L1045.7,427.2 L1047.1,426.6 L1048.6,426.2 L1050.1,425.7 L1051.5,425.2 L1053.0,424.8 L1054.5,424.4 L1055.9,423.9 L1057.4,423.6 L1058.9,423.2 L1060.4,422.8 L1061.9,422.5 L1063.4,422.2 L1064.9,421.8 L1066.4,421.6 L1067.9,421.3 L1069.5,421.0 L1071.0,420.8 L1072.5,420.6 L1074.0,420.4 L1075.6,420.2 L1077.1,420.0 L1078.6,419.9 L1080.1,419.7 L1081.7,419.6 L1083.2,419.5 L1084.8,419.4 L1086.3,419.4 L1087.8,419.3 L1089.4,419.3 L1090.9,419.3 L1092.4,419.3 L1094.0,419.3 L1095.5,419.4 L1097.1,419.4 L1098.6,419.5 L1100.1,419.6 L1101.7,419.7 L1103.2,419.9 L1104.7,420.0 L1106.3,420.2 L1107.8,420.3 L1109.3,420.5 L1110.8,420.8 L1112.4,421.0 L1113.9,421.3 L1115.4,421.5 L1116.9,421.8 L1118.4,422.1 L1119.9,422.4 L1121.4,422.8 L1122.9,423.1 L1124.4,423.5 L1125.9,423.9 L1127.4,424.3 L1128.8,424.7 L1130.3,425.2 L1131.8,425.6 L1133.2,426.1 L1134.7,426.6 L1136.1,427.1 L1137.6,427.6 L1139.0,428.2 L1140.4,428.7 L1141.9,429.3 L1143.3,429.9 L1144.7,430.5Z" fill="#5d2457"/>
<path d="M1002.2,354.5 L999.9,355.6 L997.6,356.6 L995.4,357.7 L993.1,358.9 L990.9,360.0 L988.7,361.2 L986.5,362.4 L984.3,363.6 L982.1,364.8 L980.0,366.1 L977.8,367.4 L975.7,368.7 L973.6,370.1 L971.5,371.5 L969.4,372.9 L967.3,374.3 L965.3,375.7 L963.3,377.2 L961.3,378.7 L959.3,380.2 L957.3,381.7 L955.3,383.3 L953.4,384.9 L951.5,386.5 L949.6,388.1 L947.7,389.7 L945.8,391.4 L944.0,393.1 L942.2,394.8 L940.4,396.6 L938.6,398.3 L936.8,400.1 L935.1,401.9 L933.4,403.7 L931.7,405.5 L930.0,407.4 L928.3,409.3 L926.7,411.2 L925.1,413.1 L923.5,415.0 L921.9,416.9 L920.4,418.9 L918.9,420.9 L917.4,422.9 L915.9,424.9 L914.5,427.0 L913.0,429.0 L911.7,431.1 L910.3,433.2 L908.9,435.3 L907.6,437.4 L906.3,439.5 L905.0,441.7 L903.8,443.8 L902.6,446.0 L901.4,448.2 L900.2,450.4 L899.1,452.6 L897.9,454.8 L896.8,457.1 L895.8,459.3 L894.7,461.6 L893.7,463.9 L892.7,466.2 L891.8,468.5 L890.9,470.8 L889.9,473.1 L889.1,475.4 L888.2,477.8 L887.4,480.1 L886.6,482.5 L885.8,484.9 L885.1,487.2 L884.4,489.6 L883.7,492.0 L883.1,494.4 L882.4,496.8 L881.8,499.3 L881.3,501.7 L880.7,504.1 L880.2,506.6 L879.7,509.0 L879.3,511.4 L878.9,513.9 L878.5,516.4 L878.1,518.8 L877.8,521.3 L877.5,523.8 L877.2,526.2 L876.9,528.7 L876.7,531.2 L876.5,533.7 L876.4,536.2 L876.2,538.6 L876.1,541.1 L876.1,543.6 L876.0,546.1 L876.0,548.6 L959.0,548.6 L959.0,547.1 L959.0,545.6 L959.1,544.1 L959.1,542.6 L959.2,541.1 L959.3,539.5 L959.4,538.0 L959.6,536.5 L959.7,535.0 L959.9,533.5 L960.1,532.0 L960.3,530.5 L960.5,529.0 L960.8,527.5 L961.0,526.1 L961.3,524.6 L961.6,523.1 L961.9,521.6 L962.2,520.1 L962.6,518.7 L963.0,517.2 L963.3,515.7 L963.7,514.3 L964.2,512.8 L964.6,511.4 L965.0,509.9 L965.5,508.5 L966.0,507.1 L966.5,505.6 L967.0,504.2 L967.6,502.8 L968.1,501.4 L968.7,500.0 L969.3,498.6 L969.9,497.2 L970.5,495.8 L971.1,494.4 L971.8,493.1 L972.5,491.7 L973.2,490.4 L973.9,489.0 L974.6,487.7 L975.3,486.3 L976.1,485.0 L976.8,483.7 L977.6,482.4 L978.4,481.1 L979.2,479.8 L980.0,478.6 L980.9,477.3 L981.7,476.0 L982.6,474.8 L983.5,473.6 L984.4,472.3 L985.3,471.1 L986.3,469.9 L987.2,468.7 L988.2,467.5 L989.1,466.4 L990.1,465.2 L991.1,464.1 L992.1,462.9 L993.2,461.8 L994.2,460.7 L995.3,459.6 L996.3,458.5 L997.4,457.4 L998.5,456.3 L999.6,455.3 L1000.7,454.3 L1001.9,453.2 L1003.0,452.2 L1004.2,451.2 L1005.3,450.2 L1006.5,449.3 L1007.7,448.3 L1008.9,447.3 L1010.1,446.4 L1011.3,445.5 L1012.6,444.6 L1013.8,443.7 L1015.1,442.8 L1016.3,442.0 L1017.6,441.1 L1018.9,440.3 L1020.2,439.5 L1021.5,438.7 L1022.8,437.9 L1024.2,437.1 L1025.5,436.3 L1026.8,435.6 L1028.2,434.9 L1029.5,434.2 L1030.9,433.5 L1032.3,432.8 L1033.7,432.1 L1035.1,431.5 L1036.5,430.8Z" fill="#ff1c1d"/>
<line x1="155.7" y1="111" x2="155.7" y2="259" stroke="#505050" stroke-opacity="0.5" stroke-width="1.5" stroke-dasharray="8 7"/>
<line x1="155.7" y1="334.5" x2="155.7" y2="430" stroke="#6a6040" stroke-opacity="0.6" stroke-width="1.5" stroke-dasharray="8 7"/>
<line x1="1091" y1="111.5" x2="1091" y2="256" stroke="#2a7090" stroke-opacity="0.45" stroke-width="1.5" stroke-dasharray="8 7"/>
<line x1="1091" y1="329" x2="1091" y2="424" stroke="#b89ab8" stroke-opacity="0.55" stroke-width="1.5" stroke-dasharray="8 7"/>
<path transform="translate(209,199.6)" d="M3.6,0 L0.6,0 L0.6,-13.6 L-3.8,-12.1 L-3.8,-14.7 L1.0,-16.6 L3.6,-16.6 Z" fill="#fff" fill-opacity="0.9"/>
<path transform="translate(358.4,257.3)" d="M3.6,0 L0.6,0 L0.6,-13.6 L-3.8,-12.1 L-3.8,-14.7 L1.0,-16.6 L3.6,-16.6 Z" fill="#fff" fill-opacity="0.9"/>
<path transform="translate(458,361.7)" d="M3.6,0 L0.6,0 L0.6,-13.6 L-3.8,-12.1 L-3.8,-14.7 L1.0,-16.6 L3.6,-16.6 Z" fill="#fff" fill-opacity="0.9"/>
<path transform="translate(507,499)" d="M3.6,0 L0.6,0 L0.6,-13.6 L-3.8,-12.1 L-3.8,-14.7 L1.0,-16.6 L3.6,-16.6 Z" fill="#fff" fill-opacity="0.9"/>
<text x="139.8" y="390.8" class="n" style="fill-opacity:0.6">2</text>
<path transform="translate(253.6,419.4)" d="M3.6,0 L0.6,0 L0.6,-13.6 L-3.8,-12.1 L-3.8,-14.7 L1.0,-16.6 L3.6,-16.6 Z" fill="#fff" fill-opacity="0.9"/>
<path transform="translate(299.5,471.4)" d="M3.6,0 L0.6,0 L0.6,-13.6 L-3.8,-12.1 L-3.8,-14.7 L1.0,-16.6 L3.6,-16.6 Z" fill="#fff" fill-opacity="0.9"/>
<path transform="translate(322.4,532)" d="M3.6,0 L0.6,0 L0.6,-13.6 L-3.8,-12.1 L-3.8,-14.7 L1.0,-16.6 L3.6,-16.6 Z" fill="#fff" fill-opacity="0.9"/>
<text x="2.8" y="485.8" class="n">2</text>
<text x="779" y="357.2" class="n">3</text>
<text x="1083" y="189.2" class="n">2</text>
<text x="943.1" y="469.4" class="n">3</text>
<text x="1085.6" y="382.6" class="n">2</text>
<text x="1213.8" y="440.2" class="n">2</text>
</svg>
<div class="t title" style="left:-0.8px;top:95.8px;font-size:23px">e</div>
<div class="t title" style="left:636.5px;top:97px;">Provincia de Las Palmas</div>
<div class="t yr" style="left:-60.5px;top:560px;font-size:19.5px;color:#454545">28A 2019</div>
<div class="t yr" style="left:666px;top:550.5px;font-size:26px;letter-spacing:0.8px;">10N 2019</div>
<div class="t yr" style="left:873.5px;top:553.5px;font-size:19.5px;color:#454545">28A 2019</div>
<div class="sq" style="left:900px;top:588.2px;width:15px;height:14px;background:#ff1c1d"></div>
<div class="t lg" style="left:922.5px;top:585.5px;font-size:20px;"><span style="letter-spacing:-0.9px">PSOE</span></div>
<div class="sq" style="left:988px;top:588.2px;width:15px;height:14px;background:#05a5e3"></div>
<div class="t lg" style="left:1010px;top:585.5px;font-size:20px;">PP</div>
<div class="sq" style="left:1053.5px;top:588.2px;width:15px;height:14px;background:#5d2457"></div>
<div class="t lg" style="left:1075px;top:585.5px;font-size:20px;">UP</div>
<div class="sq" style="left:1127px;top:588.2px;width:15px;height:14px;background:#ff803c"></div>
<div class="t lg" style="left:1147px;top:585.5px;font-size:20px;">C’s</div>
<div class="sq" style="left:1200px;top:588.2px;width:15px;height:14px;background:#17c52a"></div>
<div class="t lg" style="left:1222.5px;top:585.5px;font-size:20px;"><span style="letter-spacing:-1.6px">VOX</span></div>
<div class="t lg" style="left:-8.8px;top:592.6px;font-size:21.5px;transform:scaleX(0.953);transform-origin:0 0;"><span style="display:inline-block;letter-spacing:-0.3px;transform:scaleX(0.85);transform-origin:0 0">PSOE</span></div>
<div class="sq" style="left:53px;top:595px;width:15.5px;height:15.3px;background:#05a5e3"></div>
<div class="t lg" style="left:75.5px;top:592.6px;font-size:21.5px;transform:scaleX(0.953);transform-origin:0 0;">PP</div>
<div class="sq" style="left:118.5px;top:595px;width:15.5px;height:15.3px;background:#5d2457"></div>
<div class="t lg" style="left:139px;top:592.6px;font-size:21.5px;transform:scaleX(0.953);transform-origin:0 0;">UP</div>
<div class="sq" style="left:190.5px;top:595px;width:15.5px;height:15.3px;background:#ff803c"></div>
<div class="t lg" style="left:210.3px;top:592.6px;font-size:21.5px;transform:scaleX(0.953);transform-origin:0 0;">C’s</div>
<div class="sq" style="left:262px;top:595px;width:15.5px;height:15.3px;background:#17c52a"></div>
<div class="t lg" style="left:284px;top:592.6px;font-size:21.5px;transform:scaleX(0.953);transform-origin:0 0;"><span style="letter-spacing:-1.6px">VOX</span></div>
<div class="sq" style="left:341px;top:595px;width:15.5px;height:15.3px;background:#8b8b8b"></div>
<div class="t lg" style="left:361.8px;top:592.6px;font-size:21.5px;transform:scaleX(0.953);transform-origin:0 0;">CC-NC<span style="font-size:12px;position:relative;top:-11px;left:0.5px">•</span></div>
<div class="sq" style="left:438.5px;top:595px;width:15.5px;height:15.3px;background:#1ee6c3"></div>
<div class="t lg" style="left:459.5px;top:592.6px;font-size:21.5px;transform:scaleX(0.953);transform-origin:0 0;">Más País</div>
<div class="t fn" style="left:643px;top:620.5px;">• CC-NC es la alianza de Coalición Canaria con Nueva Canarias.</div>
<div class="t fn" style="left:-290px;top:628.5px;">• CC-NC es la alianza de Coalición Canaria con Nueva Canarias.</div>
</div>
</body></html>
